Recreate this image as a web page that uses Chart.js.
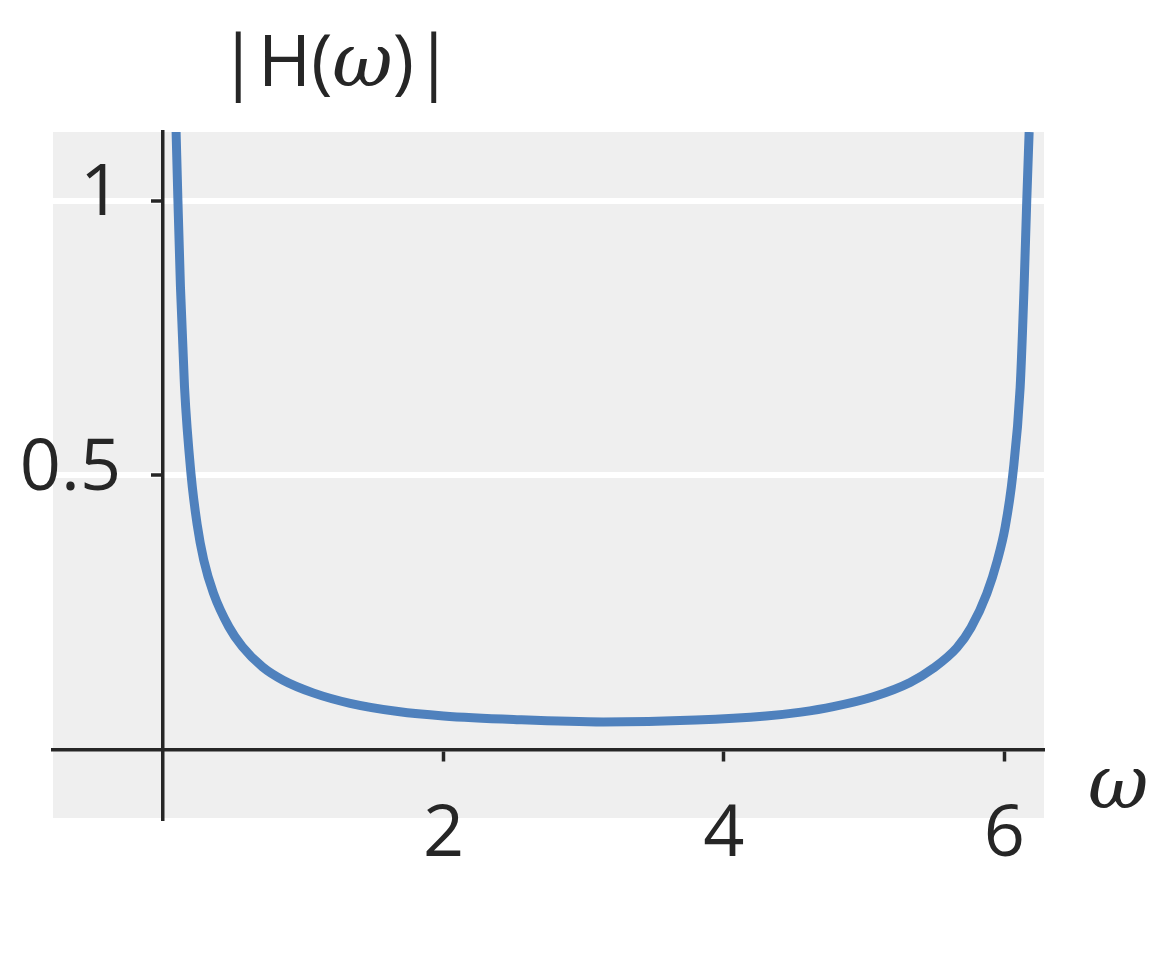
<!DOCTYPE html>
<html>
<head>
<meta charset="utf-8">
<script src="https://cdn.jsdelivr.net/npm/chart.js@4.4.1/dist/chart.umd.min.js"></script>
<style>
  html, body { margin: 0; padding: 0; background: #ffffff; }
</style>
</head>
<body>
<canvas id="chart" width="1152" height="960"></canvas>
<script>
// valores: frecuencia y módulo de la respuesta
const omega = [0.093, 0.106, 0.124, 0.153, 0.200, 0.243, 0.290, 0.359, 0.470, 0.566,
  0.710, 0.856, 1.070, 1.334, 1.676, 2.0, 2.5, 3.14, 3.8, 4.3,
  4.55, 4.78, 5.066, 5.328, 5.494, 5.661, 5.763, 5.875, 5.951, 6.006,
  6.060, 6.113, 6.141, 6.160, 6.177];
const magnitude = [1.125, 1.0, 0.843, 0.660, 0.500, 0.410, 0.345, 0.285, 0.223, 0.187,
  0.150, 0.126, 0.103, 0.084, 0.069, 0.061, 0.0545, 0.050, 0.0535, 0.061,
  0.068, 0.078, 0.096, 0.122, 0.148, 0.185, 0.222, 0.284, 0.345, 0.405,
  0.500, 0.660, 0.843, 1.0, 1.125];
const xTicks = [2, 4, 6];
const yTicks = [0.5, 1];
const xLimits = [-0.785, 6.283];
const yLimits = [-0.125, 1.125];

const textColor = '#262626';
const sansFont = '72px "Open Sans"';
const mathFont = 'italic 74px "DejaVu Serif"';

// fondo gris del área de dibujo
const plotBackground = {
  id: 'plotBackground',
  beforeDraw(chart) {
    const { ctx, chartArea: a } = chart;
    ctx.save();
    ctx.fillStyle = '#efefef';
    ctx.fillRect(a.left, a.top, a.right - a.left, a.bottom - a.top);
    ctx.restore();
  }
};

// etiquetas del eje y a la izquierda del eje, y títulos con fuentes mezcladas
const axisText = {
  id: 'axisText',
  afterDraw(chart) {
    const ctx = chart.ctx;
    const xs = chart.scales.x;
    const ys = chart.scales.y;
    ctx.save();
    ctx.fillStyle = textColor;

    ctx.font = sansFont;
    ctx.textAlign = 'right';
    ctx.textBaseline = 'middle';
    const axisX = xs.getPixelForValue(0);
    ys.ticks.forEach(t => {
      ctx.fillText(String(t.value), axisX - 42, ys.getPixelForValue(t.value) - 6);
    });

    ctx.textAlign = 'left';
    ctx.textBaseline = 'alphabetic';
    const parts = [['|H(', sansFont], ['ω', mathFont], [')|', sansFont]];
    let total = 0;
    parts.forEach(([t, f]) => { ctx.font = f; total += ctx.measureText(t).width; });
    let x = 336 - total / 2;
    parts.forEach(([t, f]) => {
      ctx.font = f;
      ctx.fillText(t, x, 86);
      x += ctx.measureText(t).width;
    });

    ctx.font = mathFont;
    ctx.fillText('ω', 1088, 808);
    ctx.restore();
  }
};

new Chart(document.getElementById('chart'), {
  type: 'line',
  data: {
    datasets: [{
      data: omega.map((w, i) => ({ x: w, y: magnitude[i] })),
      borderColor: '#4f81bd',
      borderWidth: 9,
      pointRadius: 0,
      cubicInterpolationMode: 'monotone',
      clip: 0
    }]
  },
  options: {
    responsive: false,
    animation: false,
    layout: { padding: { left: 53, top: 132, right: 108, bottom: 142 } },
    plugins: { legend: { display: false }, tooltip: { enabled: false } },
    scales: {
      x: {
        type: 'linear',
        position: { y: 0 },
        min: xLimits[0],
        max: xLimits[1],
        afterBuildTicks: (s) => { s.ticks = xTicks.map(v => ({ value: v })); },
        grid: { drawOnChartArea: false, drawTicks: true, tickLength: 10, tickColor: textColor, tickWidth: 3.5 },
        border: { display: true, color: textColor, width: 3.5 },
        ticks: { color: textColor, font: { family: 'Open Sans', size: 72 }, padding: 33, maxRotation: 0, autoSkip: false }
      },
      y: {
        type: 'linear',
        position: { x: 0 },
        min: yLimits[0],
        max: yLimits[1],
        afterBuildTicks: (s) => { s.ticks = yTicks.map(v => ({ value: v })); },
        grid: { color: '#ffffff', lineWidth: 6, drawTicks: true, tickLength: 10, tickColor: textColor, tickWidth: 3.5 },
        border: { display: true, color: textColor, width: 3.5 },
        ticks: { display: false }
      }
    }
  },
  plugins: [plotBackground, axisText]
});
</script>
</body>
</html>
